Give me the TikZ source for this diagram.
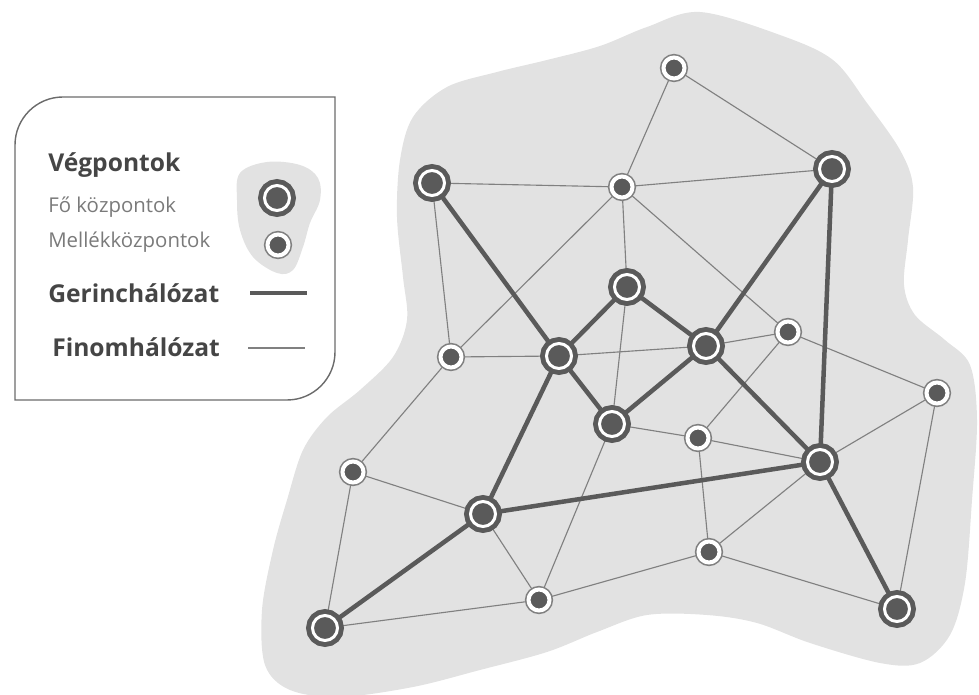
\documentclass[tikz,border=0pt]{standalone}
\usepackage{fontspec}
\setmainfont{Open Sans}
\usepackage{xcolor}
\usetikzlibrary{backgrounds}
\pgfdeclarelayer{edgelayer}
\pgfdeclarelayer{nodelayer}
\pgfsetlayers{edgelayer,main,nodelayer}

\definecolor{netdark}{HTML}{5A5A5A}
\definecolor{netthin}{HTML}{808080}
\definecolor{netarea}{HTML}{E2E2E2}
\definecolor{legendtext}{HTML}{454545}
\definecolor{legendsub}{HTML}{7A7A7A}

\tikzset{
	major/.style={circle, inner sep=0pt, minimum size=0.625cm, fill=netdark, draw=white, line width=0.075cm, preaction={draw=netdark, line width=0.32cm}},
	minor/.style={circle, inner sep=0pt, minimum size=0.525cm, fill=netdark, draw=white, line width=0.1cm, preaction={draw=netthin, line width=0.18cm}},
	backbone/.style={draw=netdark, line width=3.2pt},
	fine/.style={draw=netthin, line width=0.8pt},
	area/.style={fill=netarea, draw=none},
	legendhead/.style={anchor=west, inner sep=0pt, text=legendtext, font=\fontsize{17.5}{20}\selectfont\bfseries},
	legendsub/.style={anchor=west, inner sep=0pt, text=legendsub, font=\fontsize{14.5}{17}\selectfont}
}

\begin{document}
\begin{tikzpicture}
	\useasboundingbox (0,0) rectangle (24.475,17.375);
	\begin{pgfonlayer}{nodelayer}
		\node [major] (0) at (10.8, 12.8) {};
		\node [minor] (1) at (16.85, 15.675) {};
		\node [major] (2) at (20.8, 13.15) {};
		\node [minor] (3) at (15.55, 12.7) {};
		\node [major] (4) at (15.675, 10.2) {};
		\node [minor] (5) at (11.275, 8.45) {};
		\node [major] (6) at (13.975, 8.475) {};
		\node [major] (7) at (17.65, 8.725) {};
		\node [minor] (8) at (19.7, 9.075) {};
		\node [minor] (9) at (23.425, 7.55) {};
		\node [major] (10) at (15.3, 6.775) {};
		\node [minor] (11) at (17.45, 6.425) {};
		\node [major] (12) at (20.5, 5.825) {};
		\node [minor] (13) at (8.825, 5.575) {};
		\node [major] (14) at (12.075, 4.525) {};
		\node [minor] (15) at (17.725, 3.575) {};
		\node [minor] (16) at (13.475, 2.375) {};
		\node [major] (17) at (8.125, 1.675) {};
		\node [major] (18) at (22.425, 2.15) {};
		% legend
		\draw [draw=netdark!90, line width=1pt] (0.375, 7.375) -- (0.375, 13.75) arc (180:90:1.2) -- (8.375, 14.95) -- (8.375, 8.575) arc (0:-90:1.2) -- cycle;
		\node [legendhead] (19) at (1.2, 13.25) {Végpontok};
		\node [legendsub] (20) at (1.2, 12.2) {Fő központok};
		\node [legendsub] (21) at (1.2, 11.325) {Mellékközpontok};
		\node [major] (22) at (6.925, 12.425) {};
		\node [minor] (23) at (6.95, 11.25) {};
		\node [legendhead] (24) at (1.2, 10.05) {Gerinchálózat};
		\coordinate (25) at (6.25, 10.05);
		\coordinate (26) at (7.675, 10.05);
		\node [legendhead] (27) at (1.3, 8.7) {Finomhálózat};
		\coordinate (28) at (6.2, 8.675);
		\coordinate (29) at (7.625, 8.675);
	\end{pgfonlayer}
	\begin{pgfonlayer}{edgelayer}
		\path [area] plot [smooth cycle, tension=0.55] coordinates {
			(17.5, 17.075) (19.5, 16.5) (20.825, 15.875) (21.675, 14.8) (22.5, 13.625)
			(22.825, 12.7) (22.7, 11.375) (22.6, 10.25) (22.875, 9.5) (23.625, 8.875)
			(24.25, 8.25) (24.425, 6.875) (24.3, 4.875) (24.125, 2.8) (23.75, 1.5)
			(23.0, 0.8) (22.0, 0.8) (20.25, 1.3) (18.925, 1.8) (17.675, 2.0)
			(16.175, 2.0) (14.925, 1.575) (13.675, 1.075) (12.0, 0.625) (10.325, 0.2)
			(8.5, -0.05) (7.25, 0.125) (6.625, 0.75) (6.55, 2.125) (6.825, 3.625)
			(7.175, 4.875) (7.575, 6.125) (8.175, 6.95) (9.0, 7.625) (9.825, 8.45)
			(10.175, 9.375) (10.075, 10.45) (9.925, 11.95) (10.0, 13.375) (10.325, 14.45)
			(11.175, 15.2) (12.425, 15.575) (13.675, 15.875) (15.0, 16.225) (16.175, 16.7)};
		\path [area] plot [smooth cycle, tension=0.6] coordinates {
			(6.0, 13.05) (6.675, 13.325) (7.5, 13.25) (7.95, 12.925) (8.0, 12.375) (7.75, 11.8)
			(7.575, 11.2) (7.325, 10.625) (6.925, 10.55) (6.325, 10.95) (6.0, 11.625) (5.925, 12.375)};
		\draw [fine] (1.center) to (3.center);
		\draw [fine] (1.center) to (2.center);
		\draw [fine] (0.center) to (3.center);
		\draw [fine] (3.center) to (2.center);
		\draw [fine] (0.center) to (5.center);
		\draw [fine] (5.center) to (3.center);
		\draw [fine] (5.center) to (6.center);
		\draw [fine] (3.center) to (4.center);
		\draw [fine] (3.center) to (8.center);
		\draw [fine] (6.center) to (7.center);
		\draw [fine] (7.center) to (8.center);
		\draw [fine] (4.center) to (10.center);
		\draw [fine] (8.center) to (11.center);
		\draw [fine] (8.center) to (9.center);
		\draw [fine] (10.center) to (11.center);
		\draw [fine] (11.center) to (12.center);
		\draw [fine] (11.center) to (15.center);
		\draw [fine] (12.center) to (9.center);
		\draw [fine] (9.center) to (18.center);
		\draw [fine] (12.center) to (15.center);
		\draw [fine] (15.center) to (18.center);
		\draw [fine] (15.center) to (16.center);
		\draw [fine] (10.center) to (16.center);
		\draw [fine] (14.center) to (16.center);
		\draw [fine] (17.center) to (16.center);
		\draw [fine] (17.center) to (13.center);
		\draw [fine] (13.center) to (14.center);
		\draw [fine] (13.center) to (5.center);
		\draw [backbone] (0.center) to (6.center);
		\draw [backbone] (6.center) to (4.center);
		\draw [backbone] (4.center) to (7.center);
		\draw [backbone] (6.center) to (10.center);
		\draw [backbone] (10.center) to (7.center);
		\draw [backbone] (2.center) to (7.center);
		\draw [backbone] (2.center) to (12.center);
		\draw [backbone] (7.center) to (12.center);
		\draw [backbone] (6.center) to (14.center);
		\draw [backbone] (14.center) to (12.center);
		\draw [backbone] (14.center) to (17.center);
		\draw [backbone] (12.center) to (18.center);
		\draw [backbone] (25) to (26);
		\draw [fine] (28) to (29);
	\end{pgfonlayer}
\end{tikzpicture}
\end{document}
